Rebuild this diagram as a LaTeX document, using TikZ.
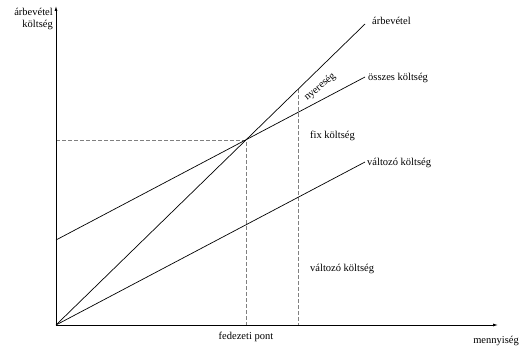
\documentclass[tikz,border=0pt]{standalone}
\usepackage{fontspec}
\setmainfont{Liberation Serif}
\usetikzlibrary{arrows.meta}
\begin{document}
\begin{tikzpicture}[x=1pt,y=-1pt,
  lbl/.style={font=\fontsize{10.5}{11.5}\selectfont, inner sep=0pt},
  axis/.style={line width=0.8pt,-{Latex[length=5pt,width=3pt]}},
  ln/.style={line width=0.7pt},
  guide/.style={line width=0.5pt, gray, dash pattern=on 4pt off 2pt}]
\useasboundingbox (0,0) rectangle (521,345);
\coordinate (O) at (56,325);
\coordinate (ytop) at (56,6);
\coordinate (xend) at (498,325);
\coordinate (R) at (365,24);
\coordinate (T0) at (56,240);
\coordinate (T) at (365,77);
\coordinate (V) at (365,162);
\coordinate (BE) at (246,140);
\coordinate (Yb) at (56,140);
\coordinate (Xb) at (246,325);
\coordinate (Q) at (298,89);
\coordinate (Qb) at (298,325);
\draw[guide] (Yb) -- (BE) -- (Xb);
\draw[guide] (Q) -- (Qb);
\draw[ln] (O) -- (R);
\draw[ln] (T0) -- (T);
\draw[ln] (O) -- (V);
\draw[axis] (O) -- (ytop);
\draw[axis] (O) -- (xend);
\node[lbl, anchor=west] (lr) at (372,21) {árbevétel};
\node[lbl, anchor=west] (lt) at (368,78) {összes költség};
\node[lbl, anchor=west] (lv) at (367,163) {változó költség};
\node[lbl, anchor=west] (lf) at (310,136) {fix költség};
\node[lbl, anchor=west] (lv2) at (310,269) {változó költség};
\node[lbl, rotate=40] (ln) at (320,87) {nyereség};
\node[lbl] (lfp) at (246,337) {fedezeti pont};
\node[lbl] (lm) at (496,341) {mennyiség};
\node[lbl, align=right, anchor=east] (ly) at (53,19) {árbevétel\\költség};
\end{tikzpicture}
\end{document}
